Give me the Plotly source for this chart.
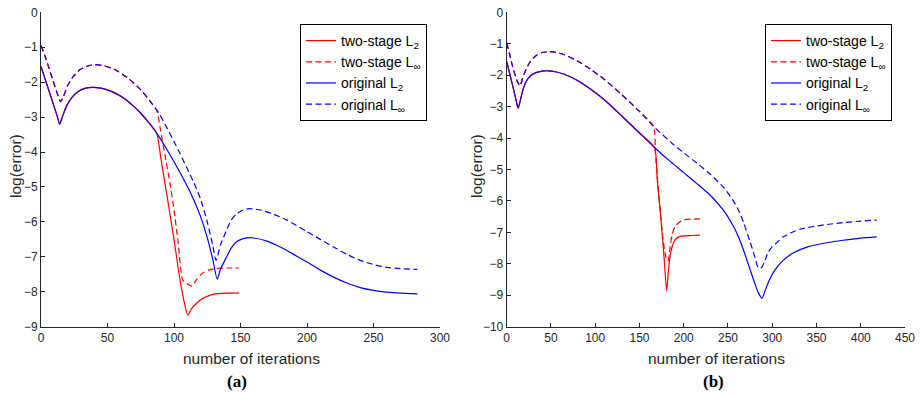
import plotly.graph_objects as go

# ---------------- panel (a) ----------------
a_split = 87
a_orig_l2_x = [0, 3, 6, 9, 12, 14, 16, 19, 23, 28, 33, 39, 45, 50, 55, 62, 70, 75, 80, 87, 95, 100, 105, 110, 115, 120, 125, 129, 132.5,
               135, 139.6, 143, 147, 152, 157, 160, 170, 180, 190, 200, 210, 220, 230, 240, 250, 260, 270, 283]
a_orig_l2_y = [-1.55, -1.9, -2.25, -2.6, -2.95, -3.2, -3.0, -2.7, -2.45, -2.27, -2.18, -2.15, -2.17, -2.22, -2.3, -2.45, -2.7, -2.89, -3.11, -3.46, -3.95, -4.28, -4.62, -4.98, -5.38, -5.85, -6.45, -7.05, -7.64,
               -7.35, -7.0, -6.75, -6.57, -6.48, -6.45, -6.46, -6.55, -6.72, -6.93, -7.15, -7.38, -7.58, -7.75, -7.88, -7.96, -8.01, -8.04, -8.06]
a_orig_linf_x = [0, 3, 6, 9, 12, 14.8, 17, 20, 24, 29, 34, 40, 47, 55, 65, 75, 82, 87, 89.5, 95, 100, 104.5, 110, 115, 120, 125, 129, 131.6,
                 135, 139.6, 143, 147, 152, 157, 165, 175, 185, 200, 210, 220, 230, 240, 250, 260, 270, 283]
a_orig_linf_y = [-0.95, -1.25, -1.6, -1.95, -2.3, -2.56, -2.4, -2.1, -1.85, -1.65, -1.55, -1.5, -1.53, -1.63, -1.87, -2.22, -2.54, -2.8, -2.94, -3.33, -3.7, -4.04, -4.48, -4.88, -5.35, -6.0, -6.65, -7.1,
                 -6.65, -6.23, -5.95, -5.77, -5.66, -5.62, -5.66, -5.78, -5.95, -6.28, -6.5, -6.72, -6.93, -7.1, -7.22, -7.3, -7.34, -7.36]
a_two_l2_x = [87, 90, 93.2, 96, 100, 104.5, 108, 110.3, 113, 117, 121, 124.6, 130, 140, 149]
a_two_l2_y = [-3.46, -4.15, -4.9, -5.55, -6.5, -7.66, -8.35, -8.67, -8.5, -8.33, -8.2, -8.14, -8.07, -8.04, -8.03]
a_two_linf_x = [87, 90, 94, 97, 100, 103, 106.5, 109, 111, 113.5, 117, 121, 126, 132, 140, 149]
a_two_linf_y = [-2.8, -3.4, -4.25, -4.9, -5.65, -6.55, -7.66, -7.74, -7.8, -7.84, -7.65, -7.48, -7.38, -7.33, -7.32, -7.32]

# ---------------- panel (b) ----------------
b_split = 167
b_orig_l2_x = [0, 3, 6, 9, 11, 13, 15, 18, 22, 27, 33, 40, 47, 55, 65, 80, 95, 111, 130, 150, 167, 185, 200, 215, 230, 245, 255, 262, 268, 274, 280, 284, 288.5,
               292, 297, 303, 312, 324, 340, 361.6, 380, 400, 418]
b_orig_l2_y = [-1.57, -1.9, -2.25, -2.6, -2.85, -3.05, -2.85, -2.5, -2.2, -2.02, -1.92, -1.87, -1.86, -1.89, -1.97, -2.17, -2.45, -2.8, -3.3, -3.84, -4.3, -4.75, -5.1, -5.45, -5.82, -6.3, -6.75, -7.15, -7.6, -8.1, -8.6, -8.9, -9.1,
               -8.85, -8.5, -8.2, -7.9, -7.65, -7.46, -7.33, -7.25, -7.18, -7.14]
b_orig_linf_x = [0, 3, 6, 9, 12, 15, 18, 22, 27, 33, 40, 47, 55, 65, 80, 95, 111, 130, 150, 166, 185, 200, 215, 230, 245, 255, 262, 268, 275, 280, 284.3, 288,
                 291, 295, 300, 305, 312, 324, 331, 345, 361.6, 380, 400, 418]
b_orig_linf_y = [-0.97, -1.3, -1.65, -1.95, -2.2, -2.34, -2.1, -1.8, -1.55, -1.38, -1.28, -1.25, -1.27, -1.35, -1.55, -1.82, -2.15, -2.62, -3.15, -3.63, -4.12, -4.47, -4.8, -5.15, -5.57, -5.95, -6.3, -6.72, -7.3, -7.75, -8.13, -8.12,
                 -7.95, -7.65, -7.45, -7.33, -7.15, -6.98, -6.9, -6.82, -6.75, -6.69, -6.64, -6.61]
b_two_l2_x = [167, 170, 174, 177.5, 180.8, 182.5, 184.5, 187, 190.2, 194, 199.5, 208, 218.4]
b_two_l2_y = [-4.3, -5.3, -6.5, -7.7, -8.87, -8.3, -7.77, -7.45, -7.24, -7.15, -7.11, -7.1, -7.09]
b_two_linf_x = [166, 168, 171, 174, 177, 180, 182.3, 184.5, 187, 190.2, 194, 199.5, 208, 218.4]
b_two_linf_y = [-3.63, -4.5, -5.5, -6.5, -7.3, -7.8, -7.92, -7.5, -7.05, -6.82, -6.7, -6.61, -6.58, -6.57]

x_ticks_a = [0, 50, 100, 150, 200, 250, 300]
x_ticks_b = [0, 50, 100, 150, 200, 250, 300, 350, 400, 450]
y_ticks_a = [0, -1, -2, -3, -4, -5, -6, -7, -8, -9]
y_ticks_b = [0, -1, -2, -3, -4, -5, -6, -7, -8, -9, -10]

names = ["two-stage L<sub>2</sub>", "two-stage L<sub>∞</sub>", "original L<sub>2</sub>", "original L<sub>∞</sub>"]
RED = "rgb(255,0,0)"
BLUE = "rgb(0,0,255)"
DASH = "6px,3.5px"
LW = 1.2
SHAPE = dict(shape="spline", smoothing=0.6)

fig = go.Figure()


def add_panel(xa, ya, leg, split, ol2x, ol2y, olix, oliy, tl2x, tl2y, tlix, tliy):
    def head(xs, ys):
        px = [x for x in xs if x <= split]
        return px, ys[:len(px)]
    h2x, h2y = head(ol2x, ol2y)
    hix, hiy = head(olix, oliy)
    fig.add_trace(go.Scatter(x=h2x[:-1] + tl2x, y=h2y[:-1] + tl2y, mode="lines", name=names[0],
                             line=dict(color=RED, width=LW, **SHAPE), xaxis=xa, yaxis=ya, legend=leg, legendrank=1))
    fig.add_trace(go.Scatter(x=hix[:-1] + tlix, y=hiy[:-1] + tliy, mode="lines", name=names[1],
                             line=dict(color=RED, width=LW, dash=DASH, **SHAPE), xaxis=xa, yaxis=ya, legend=leg, legendrank=2))
    fig.add_trace(go.Scatter(x=ol2x, y=ol2y, mode="lines", name=names[2],
                             line=dict(color=BLUE, width=LW, **SHAPE), xaxis=xa, yaxis=ya, legend=leg, legendrank=3))
    fig.add_trace(go.Scatter(x=olix, y=oliy, mode="lines", name=names[3],
                             line=dict(color=BLUE, width=LW, dash=DASH, **SHAPE), xaxis=xa, yaxis=ya, legend=leg, legendrank=4))
    # tint of the red curve lying underneath the blue one
    fig.add_trace(go.Scatter(x=h2x, y=h2y, mode="lines", showlegend=False, opacity=0.22,
                             line=dict(color=RED, width=LW, **SHAPE), xaxis=xa, yaxis=ya, hoverinfo="skip"))
    fig.add_trace(go.Scatter(x=hix, y=hiy, mode="lines", showlegend=False, opacity=0.22,
                             line=dict(color=RED, width=LW, dash=DASH, **SHAPE), xaxis=xa, yaxis=ya, hoverinfo="skip"))


add_panel("x", "y", "legend", a_split, a_orig_l2_x, a_orig_l2_y, a_orig_linf_x, a_orig_linf_y,
          a_two_l2_x, a_two_l2_y, a_two_linf_x, a_two_linf_y)
add_panel("x2", "y2", "legend2", b_split, b_orig_l2_x, b_orig_l2_y, b_orig_linf_x, b_orig_linf_y,
          b_two_l2_x, b_two_l2_y, b_two_linf_x, b_two_linf_y)

W, H = 920, 394
AX = "#262626"
tickfont = dict(family="Liberation Sans, Arial, sans-serif", size=12, color=AX)
common = dict(showline=True, linecolor=AX, linewidth=1, ticks="inside", ticklen=4, tickcolor=AX,
              showgrid=False, zeroline=False, mirror=False, tickfont=tickfont)

legfont = dict(family="Liberation Sans, Arial, sans-serif", size=14, color="#000")
y_dom = [1 - 326.7 / H, 1 - 12.3 / H]
fig.update_layout(
    width=W, height=H, margin=dict(l=0, r=0, t=0, b=0, autoexpand=False),
    plot_bgcolor="white", paper_bgcolor="white",
    xaxis=dict(domain=[41 / W, 440 / W], range=[0, 300], tickvals=x_ticks_a, anchor="y", **common),
    yaxis=dict(domain=y_dom, range=[-9, 0], tickvals=y_ticks_a, anchor="x", **common),
    xaxis2=dict(domain=[506.7 / W, 905 / W], range=[0, 450], tickvals=x_ticks_b, anchor="y2", **common),
    yaxis2=dict(domain=y_dom, range=[-10, 0], tickvals=y_ticks_b, anchor="x2", **common),
    legend=dict(x=300 / W, y=1 - 24 / H, xanchor="left", yanchor="top", bgcolor="white",
                bordercolor="#000000", borderwidth=1, font=legfont, tracegroupgap=0, itemwidth=30),
    legend2=dict(x=765 / W, y=1 - 24 / H, xanchor="left", yanchor="top", bgcolor="white",
                 bordercolor="#000000", borderwidth=1, font=legfont, tracegroupgap=0, itemwidth=30),
    showlegend=True,
)

labfont = dict(family="Liberation Sans, Arial, sans-serif", size=15.5, color=AX)
capfont = dict(family="Liberation Serif, Times New Roman, serif", size=17, color="#000")
for cx, cy, txt, f, ang in [
    (251.7, 358, "number of iterations", labfont, 0),
    (716, 358, "number of iterations", labfont, 0),
    (15, 166, "log(error)", labfont, -90),
    (476, 166, "log(error)", labfont, -90),
    (236.7, 381, "<b>(a)</b>", capfont, 0),
    (713, 381, "<b>(b)</b>", capfont, 0),
]:
    fig.add_annotation(x=cx / W, y=1 - cy / H, xref="paper", yref="paper", text=txt, showarrow=False,
                       font=f, textangle=ang, xanchor="center", yanchor="middle")

fig.write_html("out.html")
